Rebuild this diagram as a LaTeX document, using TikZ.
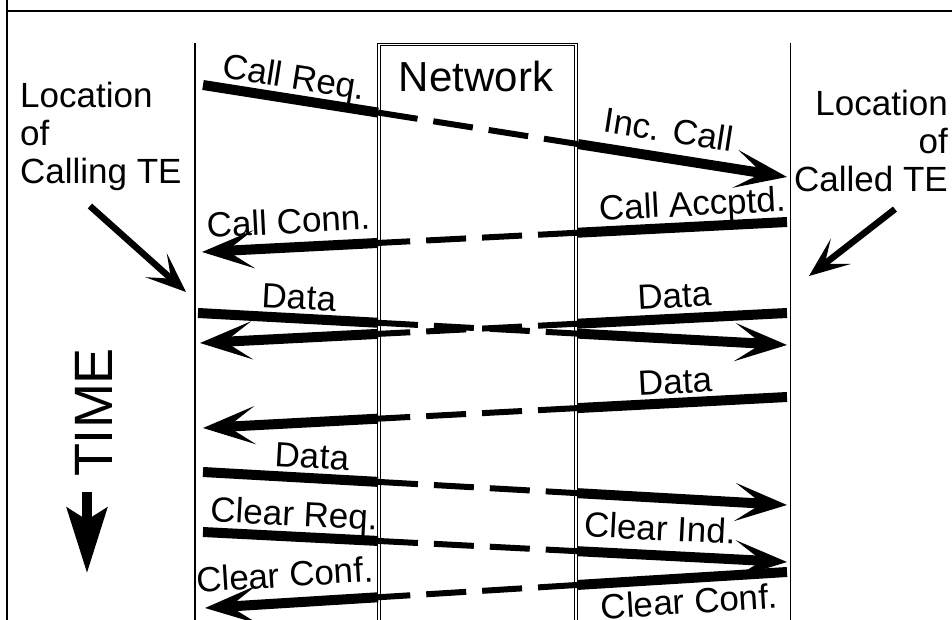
\documentclass[tikz,border=0pt]{standalone}
\usepackage{fontspec}
\setmainfont{Liberation Sans}
\usetikzlibrary{arrows.meta}

\tikzstyle{sig} = [line width=10pt]
\tikzstyle{sigarrow} = [line width=10pt, -{Stealth[length=52pt, width=38pt, inset=27pt]}]
\tikzstyle{netsig} = [line width=6pt, dash pattern=on 40pt off 16pt]
\tikzstyle{lbl} = [font=\fontsize{35}{39}\selectfont, inner sep=0pt, sloped, anchor=base]
\tikzstyle{place} = [font=\fontsize{35}{38}\selectfont, inner sep=0pt]
\tikzstyle{pointer} = [line width=6.5pt, -{Stealth[length=40pt, width=32pt, inset=20pt]}]
\tikzstyle{teline} = [line width=1.8pt]
\tikzstyle{netedge} = [line width=0.9pt]

% solid to the network, dashed through it, solid with arrow after it
\newcommand{\callmsg}[4]{%
  \coordinate (netin) at (intersection of #1--#2 and #3);
  \coordinate (netout) at (intersection of #1--#2 and #4);
  \draw[sig] (#1) -- (netin);
  \draw[netsig] (netin) -- (netout);
  \draw[sigarrow] (netout) -- (#2);
}

\begin{document}
\begin{tikzpicture}[x=1pt, y=-1pt]
  \useasboundingbox (0,0) rectangle (952,620);
  % frame
  \draw[line width=1.5pt] (7,0) -- (7,620);
  \draw[line width=1.2pt] (7,11) -- (952,11);

  % terminals and network
  \draw[teline] (195,43) -- (195,620);
  \draw[teline] (790.5,43) -- (790.5,620);
  \draw[netedge] (377.6,620) -- (377.6,43) -- (577.4,43) -- (577.4,620);
  \draw[netedge] (380.2,620) -- (380.2,45.6) -- (574.8,45.6) -- (574.8,620);
  \coordinate (netL1) at (378,40);
  \coordinate (netL2) at (378,620);
  \coordinate (netR1) at (578,40);
  \coordinate (netR2) at (578,620);
  \node(network)[font=\fontsize{42}{46}\selectfont, inner sep=0pt, anchor=base] at (476,92) {Network};

  \node(calling)[place, align=left, anchor=north west] at (20,82) {Location\\of\\Calling TE};
  \node(called)[place, align=right, anchor=north east] at (948,90) {Location\\of\\Called TE};
  \coordinate (callingTE) at (186,292);
  \coordinate (calledTE) at (809,276);
  \draw[pointer] ([xshift=-11pt, yshift=-15pt]calling.south) -- (callingTE);
  \draw[pointer] ([xshift=24pt, yshift=-17pt]called.south) -- (calledTE);

  % time
  \node(time)[font=\fontsize{54}{60}\selectfont, inner sep=0pt, rotate=90, anchor=base] at (112,412.5) {TIME};
  \coordinate (timetop) at (87,492);
  \coordinate (timeend) at (87,573);
  \draw[line width=10pt, -{Stealth[length=65pt, width=40pt, inset=12pt]}] (timetop) -- (timeend);

  % messages
  \coordinate (req1) at (203,85);   \coordinate (req2) at (787,177);
  \coordinate (acc1) at (787,222);  \coordinate (acc2) at (202,252);
  \coordinate (da1) at (198,313);   \coordinate (da2) at (787,345);
  \coordinate (db1) at (787,313);   \coordinate (db2) at (200,343);
  \coordinate (dc1) at (787,397);   \coordinate (dc2) at (203,428);
  \coordinate (dd1) at (203,472);   \coordinate (dd2) at (787,505);
  \coordinate (clr1) at (203,532); \coordinate (clr2) at (787,562);
  \coordinate (clc1) at (787,572); \coordinate (clc2) at (205,608);

  \callmsg{req1}{req2}{netL1--netL2}{netR1--netR2}
  \callmsg{acc1}{acc2}{netR1--netR2}{netL1--netL2}
  \callmsg{da1}{da2}{netL1--netL2}{netR1--netR2}
  \callmsg{db1}{db2}{netR1--netR2}{netL1--netL2}
  \callmsg{dc1}{dc2}{netR1--netR2}{netL1--netL2}
  \callmsg{dd1}{dd2}{netL1--netL2}{netR1--netR2}
  \callmsg{clr1}{clr2}{netL1--netL2}{netR1--netR2}
  \callmsg{clc1}{clc2}{netR1--netR2}{netL1--netL2}

  \path (req1) -- (req2) node[lbl, pos=.15, yshift=10pt] {Call Req.} node[lbl, pos=.79, yshift=16pt] {Inc. Call};
  \path (acc1) -- (acc2) node[lbl, pos=.16, yshift=11pt] {Call Accptd.} node[lbl, pos=.85, yshift=14pt] {Call Conn.};
  \path (da1) -- (da2) node[lbl, pos=.17, yshift=9pt] {Data};
  \path (db1) -- (db2) node[lbl, pos=.19, yshift=11pt] {Data};
  \path (dc1) -- (dc2) node[lbl, pos=.19, yshift=9pt] {Data};
  \path (dd1) -- (dd2) node[lbl, pos=.185, yshift=10pt] {Data};
  \path (clr1) -- (clr2) node[lbl, pos=.154, yshift=11pt] {Clear Req.} node[lbl, pos=.78, yshift=15pt] {Clear Ind.};
  \path (clc1) -- (clc2) node[lbl, pos=.86, yshift=16pt] {Clear Conf.} node[lbl, anchor=north, pos=.17, yshift=-10pt] {Clear Conf.};
\end{tikzpicture}
\end{document}
